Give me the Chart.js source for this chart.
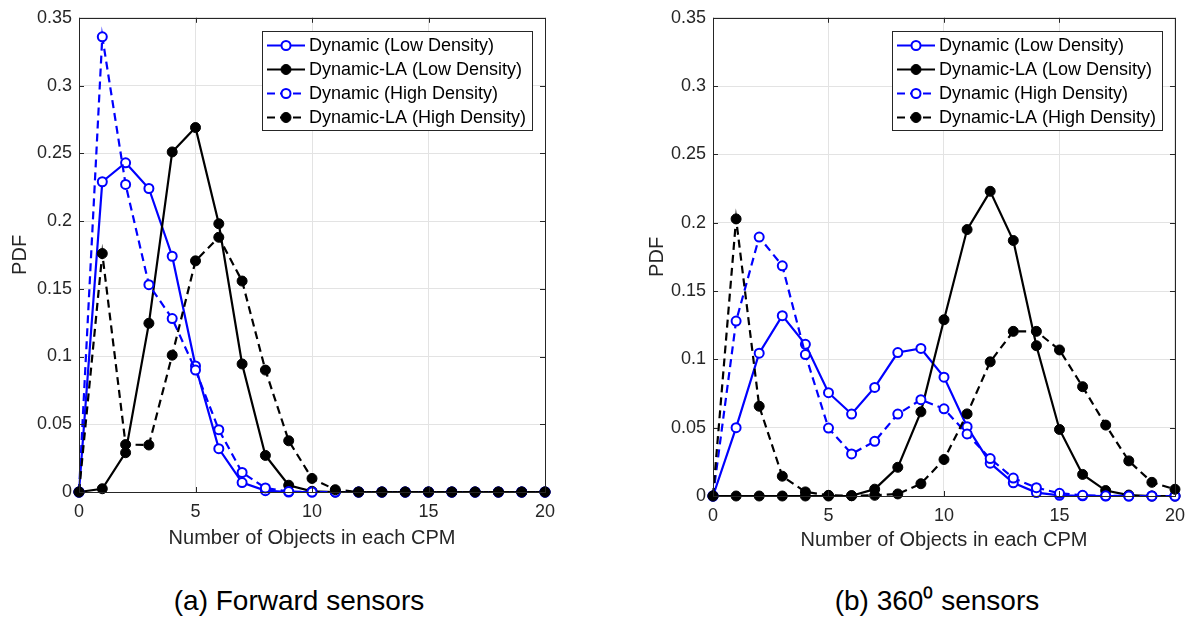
<!DOCTYPE html>
<html>
<head>
<meta charset="utf-8">
<script src="https://cdn.jsdelivr.net/npm/chart.js@4.4.1/dist/chart.umd.min.js"></script>
<style>
  body { margin: 0; background: #fff; width: 1194px; height: 618px; position: relative; overflow: hidden; font-family: "Liberation Sans", Arial, sans-serif; }
  canvas { position: absolute; top: 0; }
  #chartA { left: 0; }
  #chartB { left: 600px; }
  .caption { position: absolute; top: 587px; width: 400px; font-size: 28px; line-height: 1; color: #000; text-align: center; }
</style>
</head>
<body>
<canvas id="chartA" width="600" height="560"></canvas>
<canvas id="chartB" width="594" height="560"></canvas>
<div class="caption" style="left:99px">(a) Forward sensors</div>
<div class="caption" style="left:737px">(b) 360⁰ sensors</div>
<script>
// number of objects per CPM (x axis)
const objects = [0, 1, 2, 3, 4, 5, 6, 7, 8, 9, 10, 11, 12, 13, 14, 15, 16, 17, 18, 19, 20];
const seriesNames = ['Dynamic (Low Density)', 'Dynamic-LA (Low Density)', 'Dynamic (High Density)', 'Dynamic-LA (High Density)'];
const xTicks = [0, 5, 10, 15, 20];
const yTicks = [0, 0.05, 0.1, 0.15, 0.2, 0.25, 0.3, 0.35];

// (a) forward sensors
const fwdDynLow = [0, 0.229, 0.243, 0.224, 0.174, 0.093, 0.032, 0.007, 0.001, 0, 0, 0, 0, 0, 0, 0, 0, 0, 0, 0, 0];
const fwdLaLow = [0, 0.0024, 0.029, 0.1245, 0.251, 0.269, 0.198, 0.0945, 0.027, 0.005, 0.0005, 0, 0, 0, 0, 0, 0, 0, 0, 0, 0];
const fwdDynHigh = [0, 0.336, 0.227, 0.153, 0.128, 0.090, 0.046, 0.0144, 0.003, 0.0003, 0, 0, 0, 0, 0, 0, 0, 0, 0, 0, 0];
const fwdLaHigh = [0, 0.176, 0.035, 0.0347, 0.101, 0.1706, 0.188, 0.1557, 0.090, 0.0378, 0.010, 0.0017, 0, 0, 0, 0, 0, 0, 0, 0, 0];

// (b) 360 sensors
const allDynLow = [0, 0.050, 0.1045, 0.132, 0.111, 0.0756, 0.060, 0.0795, 0.105, 0.108, 0.087, 0.0507, 0.024, 0.0097, 0.0025, 0.0005, 0.0001, 0, 0, 0, 0];
const allLaLow = [0, 0, 0, 0, 0, 0, 0.0002, 0.005, 0.021, 0.0616, 0.129, 0.195, 0.223, 0.187, 0.110, 0.0487, 0.0158, 0.004, 0.0007, 0, 0];
const allDynHigh = [0, 0.128, 0.1895, 0.1685, 0.1035, 0.0497, 0.0308, 0.040, 0.060, 0.0705, 0.0638, 0.0454, 0.0274, 0.0131, 0.0061, 0.002, 0.0005, 0.0001, 0, 0, 0];
const allLaHigh = [0, 0.2028, 0.0657, 0.0145, 0.003, 0.0005, 0.0002, 0.0005, 0.0015, 0.009, 0.0267, 0.0601, 0.0982, 0.1205, 0.1205, 0.1069, 0.080, 0.0519, 0.0257, 0.010, 0.0049];

Chart.defaults.font.family = '"Liberation Sans", Arial, sans-serif';
Chart.defaults.color = '#262626';

const styles = [
  { color: '#0000ff', open: true, dash: [] },
  { color: '#000000', open: false, dash: [] },
  { color: '#0000ff', open: true, dash: [8, 5] },
  { color: '#000000', open: false, dash: [8, 5] }
];

// box, inward ticks and legend drawn MATLAB-like
const matlabAxes = {
  id: 'matlabAxes',
  afterDraw(chart) {
    const ctx = chart.ctx, a = chart.chartArea;
    const xs = chart.scales.x, ys = chart.scales.y;
    ctx.save();
    ctx.strokeStyle = '#262626';
    ctx.lineWidth = 1;
    ctx.strokeRect(Math.round(a.left) + 0.5, Math.round(a.top) + 0.5, Math.round(a.right - a.left), Math.round(a.bottom - a.top));
    ctx.beginPath();
    xs.ticks.forEach(t => {
      const px = Math.round(xs.getPixelForValue(t.value)) + 0.5;
      ctx.moveTo(px, a.bottom); ctx.lineTo(px, a.bottom - 5);
      ctx.moveTo(px, a.top); ctx.lineTo(px, a.top + 5);
    });
    ys.ticks.forEach(t => {
      const py = Math.round(ys.getPixelForValue(t.value)) + 0.5;
      ctx.moveTo(a.left, py); ctx.lineTo(a.left + 5, py);
      ctx.moveTo(a.right, py); ctx.lineTo(a.right - 5, py);
    });
    ctx.stroke();

    // legend box
    const w = 270, h = 99;
    const bx = Math.round(a.right - 13 - w), by = Math.round(a.top + 13);
    ctx.fillStyle = '#fff';
    ctx.fillRect(bx, by, w, h);
    ctx.strokeStyle = '#262626';
    ctx.strokeRect(bx + 0.5, by + 0.5, w, h);
    ctx.font = '18px "Liberation Sans", Arial, sans-serif';
    ctx.textBaseline = 'middle';
    chart.data.datasets.forEach((ds, i) => {
      const y = by + 14.5 + i * 24;
      const st = styles[i];
      ctx.strokeStyle = st.color;
      ctx.lineWidth = 2.2;
      ctx.setLineDash(st.dash);
      ctx.beginPath();
      ctx.moveTo(bx + 5, y); ctx.lineTo(bx + 43, y);
      ctx.stroke();
      ctx.setLineDash([]);
      ctx.beginPath();
      ctx.arc(bx + 24, y, st.open ? 4.5 : 5, 0, Math.PI * 2);
      ctx.fillStyle = st.open ? '#fff' : st.color;
      ctx.fill();
      ctx.lineWidth = st.open ? 2 : 1;
      ctx.stroke();
      ctx.fillStyle = '#000';
      ctx.fillText(ds.label, bx + 47, y + 1);
    });
    ctx.restore();
  }
};

function makeChart(id, series, geom) {
  const datasets = series.map((vals, i) => {
    const st = styles[i];
    return {
      label: seriesNames[i],
      data: objects.map((x, j) => ({ x: x, y: vals[j] })),
      borderColor: st.color,
      borderWidth: 2.2,
      borderDash: st.dash,
      pointRadius: st.open ? 4.5 : 5,
      pointBorderWidth: st.open ? 2 : 1,
      pointBackgroundColor: st.open ? '#fff' : st.color,
      pointBorderColor: st.color,
      clip: false,
      order: 3 - i
    };
  });

  return new Chart(document.getElementById(id), {
    type: 'line',
    data: { datasets: datasets },
    options: {
      responsive: false,
      animation: false,
      layout: { padding: { top: geom.top, right: geom.right, left: geom.left, bottom: 0 } },
      plugins: { legend: { display: false }, tooltip: { enabled: false } },
      scales: {
        x: {
          type: 'linear',
          min: 0, max: 20,
          afterBuildTicks: s => { s.ticks = xTicks.map(v => ({ value: v })); },
          afterFit: s => { s.height = geom.xh; },
          grid: { color: '#e3e3e3', drawTicks: false },
          border: { display: false },
          ticks: { font: { size: 18 }, padding: 9, maxRotation: 0 },
          title: { display: true, text: 'Number of Objects in each CPM', font: { size: 20 }, padding: { top: 0, bottom: geom.xtb } }
        },
        y: {
          min: 0, max: 0.35,
          afterBuildTicks: s => { s.ticks = yTicks.map(v => ({ value: v })); },
          afterFit: s => { s.width = geom.yw; },
          grid: { color: '#e3e3e3', drawTicks: false },
          border: { display: false },
          ticks: { font: { size: 18 }, padding: 7, callback: v => String(+v.toFixed(2)) },
          title: { display: true, text: 'PDF', font: { size: 20 }, padding: { top: 8, bottom: 0 } }
        }
      }
    },
    plugins: [matlabAxes]
  });
}

makeChart('chartA', [fwdDynLow, fwdLaLow, fwdDynHigh, fwdLaHigh],
  { top: 14, right: 55, left: 0, yw: 79, xh: 68, xtb: 10 });
makeChart('chartB', [allDynLow, allLaLow, allDynHigh, allLaHigh],
  { top: 14, right: 12, left: 37, yw: 76, xh: 64, xtb: 8 });
</script>
</body>
</html>
